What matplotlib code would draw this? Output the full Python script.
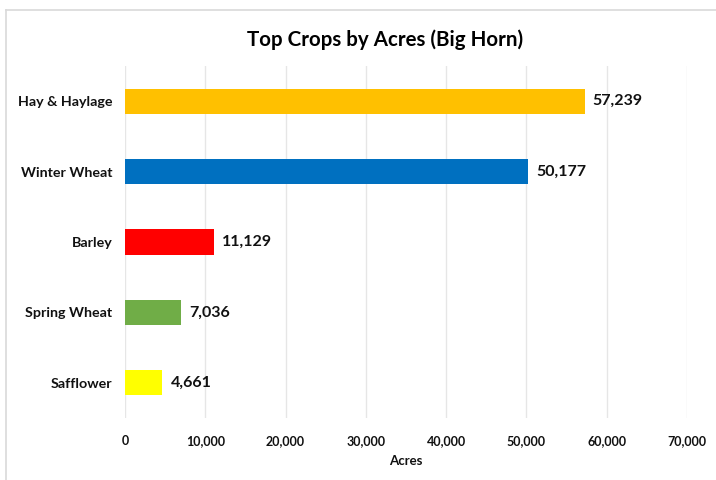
import matplotlib.pyplot as plt
from matplotlib.lines import Line2D

crops = ["Hay & Haylage", "Winter Wheat", "Barley", "Spring Wheat", "Safflower"]
acres = [57239, 50177, 11129, 7036, 4661]
colors = ["#FFC000", "#0070C0", "#FF0000", "#70AD47", "#FFFF00"]
xticks = [0, 10000, 20000, 30000, 40000, 50000, 60000, 70000]

plt.rcParams['font.family'] = ['Lato', 'DejaVu Sans']

fig = plt.figure(figsize=(7.16, 4.8), dpi=100)
ax = fig.add_axes([125 / 716, 1 - 418 / 480, (687 - 125) / 716, (418 - 66) / 480])

ypos = list(range(len(crops)))
ax.barh(ypos, acres, height=0.36, color=colors, zorder=3)
for y, v in zip(ypos, acres):
    ax.text(v + 1000, y, "{:,}".format(v), va="center", ha="left",
            fontsize=11.5, fontweight="bold", color="#111111")

ax.set_ylim(len(crops) - 0.5, -0.5)
ax.set_yticks(ypos)
ax.set_yticklabels(crops, fontsize=10.3, fontweight="bold", color="#111111")
ax.set_xlim(0, 70000)
ax.set_xticks(xticks)
ax.set_xticklabels(["{:,}".format(t) for t in xticks], fontsize=9,
                   fontweight="bold", color="#111111")
ax.tick_params(length=0, pad=9)
ax.tick_params(axis="x", pad=12)
ax.grid(axis="x", color="#e6e6e6", linewidth=1, zorder=0)
for s in ax.spines.values():
    s.set_visible(False)

ax.set_xlabel("Acres", fontsize=9.5, fontweight="bold", color="#111111", labelpad=6)
fig.text(385 / 716, 1 - 40 / 480, "Top Crops by Acres (Big Horn)",
         ha="center", va="center", fontsize=14.8, fontweight="bold", color="#000000")

# chart frame
fig.add_artist(Line2D([6 / 716, 1], [1 - 10 / 480, 1 - 10 / 480], color="#d9d9d9", linewidth=1.2))
fig.add_artist(Line2D([6 / 716, 6 / 716], [0, 1 - 10 / 480], color="#d9d9d9", linewidth=1.2))

fig.savefig("out.png", dpi=100)
